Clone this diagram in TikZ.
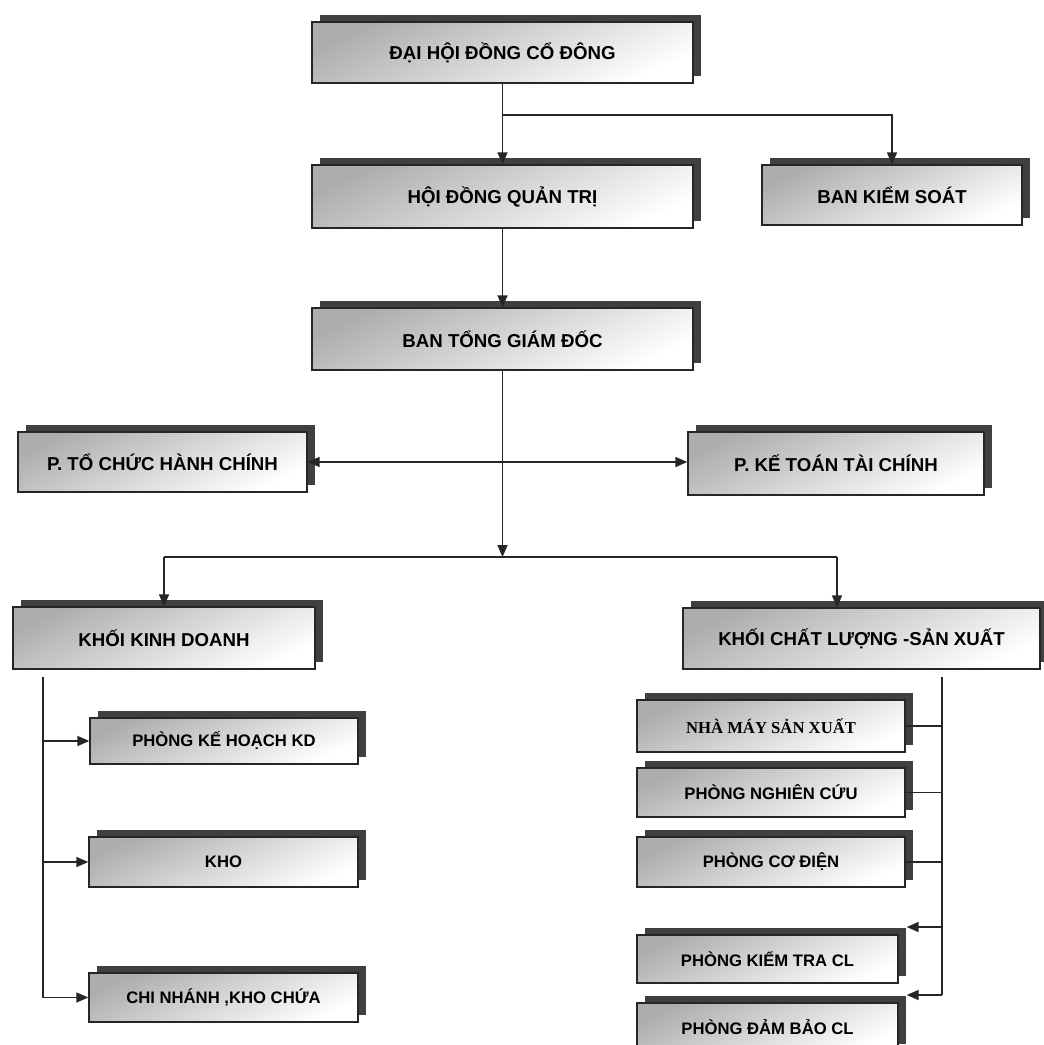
\documentclass[tikz,border=0pt]{standalone}
\usepackage{fontspec}
\setmainfont{Liberation Sans}
\newfontfamily\serifbold{Liberation Serif}
\usetikzlibrary{arrows.meta,shadows}

\begin{document}
\begin{tikzpicture}[x=0.75pt, y=-0.75pt]
    \tikzset{unit/.style={draw=black!85, line width=1pt, top color=black!32, bottom color=white, shading angle=25,
        general shadow={fill=black!75, shadow xshift=6pt, shadow yshift=5pt},
        font=\fontsize{14}{16}\selectfont\bfseries, align=center, inner sep=0pt}}
    \tikzset{subunit/.style={unit, font=\fontsize{12.5}{14}\selectfont\bfseries}}
    \tikzset{link/.style={line width=1.2pt, black!85}}
    \tikzset{tip/.tip={Triangle[length=9pt, width=7.5pt]}}
    \tikzset{arrow/.style={link, -tip}}
    \useasboundingbox (0,0) rectangle (1043,1045);

    \node[unit, minimum width=381*0.75pt, minimum height=61*0.75pt] (DHDCD) at (502.5,52.5) {ĐẠI HỘI ĐỒNG CỔ ĐÔNG};
    \node[unit, minimum width=381*0.75pt, minimum height=63*0.75pt] (HDQT) at (502.5,196.5) {HỘI ĐỒNG QUẢN TRỊ};
    \node[unit, minimum width=260*0.75pt, minimum height=60*0.75pt] (BKS) at (892,195) {BAN KIỂM SOÁT};
    \node[unit, minimum width=381*0.75pt, minimum height=62*0.75pt] (BTGD) at (502.5,339) {BAN TỔNG GIÁM ĐỐC};
    \node[unit, minimum width=289*0.75pt, minimum height=60*0.75pt] (PTCHC) at (162.5,462) {P. TỔ CHỨC HÀNH CHÍNH};
    \node[unit, minimum width=296*0.75pt, minimum height=63*0.75pt] (PKTTC) at (836,463.5) {P. KẾ TOÁN TÀI CHÍNH};
    \node[unit, minimum width=302*0.75pt, minimum height=62*0.75pt] (KKD) at (164,638) {KHỐI KINH DOANH};
    \node[unit, minimum width=357*0.75pt, minimum height=61*0.75pt] (KCLSX) at (861.5,638.5) {KHỐI CHẤT LƯỢNG -SẢN XUẤT};

        % khoi kinh doanh
        \node[subunit, minimum width=268*0.75pt, minimum height=46*0.75pt] (PKHKD) at (224,741) {PHÒNG KẾ HOẠCH KD};
        \node[subunit, minimum width=269*0.75pt, minimum height=50*0.75pt] (KHO) at (223.5,862) {KHO};
        \node[subunit, minimum width=269*0.75pt, minimum height=49*0.75pt] (CNKC) at (223.5,997.5) {CHI NHÁNH ,KHO CHỨA};

        % khoi chat luong - san xuat
        \node[subunit, minimum width=268*0.75pt, minimum height=52*0.75pt, font=\serifbold\fontsize{12.5}{14}\selectfont\bfseries] (NMSX) at (771,726) {NHÀ MÁY SẢN XUẤT};
        \node[subunit, minimum width=268*0.75pt, minimum height=49*0.75pt] (PNC) at (771,792.5) {PHÒNG NGHIÊN CỨU};
        \node[subunit, minimum width=268*0.75pt, minimum height=50*0.75pt] (PCD) at (771,862) {PHÒNG CƠ ĐIỆN};
        \node[subunit, minimum width=261*0.75pt, minimum height=48*0.75pt] (PKTCL) at (767.5,959) {PHÒNG KIỂM TRA CL};
        \node[subunit, minimum width=261*0.75pt, minimum height=48*0.75pt] (PDBCL) at (767.5,1027) {PHÒNG ĐẢM BẢO CL};

    % top levels
    \coordinate (split) at (502.5,115);
    \draw[arrow] (DHDCD) -- (HDQT);
    \draw[arrow] (split) -| (BKS);
    \draw[arrow] (HDQT) -- (BTGD);
    \coordinate (fork) at (502.5,557);
    \draw[arrow] (BTGD) -- (fork);
    \draw[link, tip-tip] (PTCHC.east) -- (PKTTC.west |- PTCHC.east);
    \coordinate (forkL) at (164,557);
    \coordinate (forkR) at (837,557);
    \draw[link] (forkL) -- (forkR);
    \draw[arrow] (forkL) -- (KKD);
    \draw[arrow] (forkR) -- (forkR |- KCLSX.north);

    % left spine
    \coordinate (spineL) at (43,677);
    \draw[link] (spineL) -- (spineL |- CNKC);
    \foreach \u in {PKHKD,KHO,CNKC}{
        \draw[arrow] (spineL |- \u) -- (\u.west);
    }

    % right spine
    \coordinate (spineR) at (942,677);
    \draw[link] (spineR) -- (942,995);
    \foreach \u in {NMSX,PNC,PCD}{
        \draw[link] (\u.east) -- (spineR |- \u);
    }
    \foreach \u/\y in {PKTCL/927,PDBCL/995}{
        \draw[arrow] (942,\y) -- ([xshift=6pt]\u.north east |- 0,\y);
    }
\end{tikzpicture}
\end{document}
